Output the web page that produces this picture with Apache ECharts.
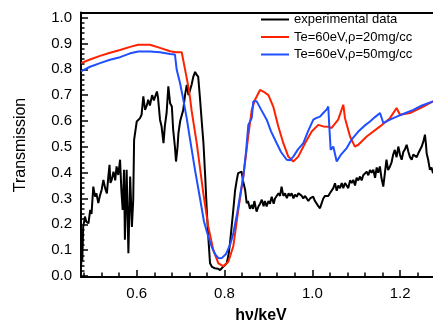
<!DOCTYPE html>
<html><head><meta charset="utf-8">
<script src="https://cdn.jsdelivr.net/npm/echarts@6/dist/echarts.min.js"></script>
<style>html,body{margin:0;padding:0;background:#fff}#c{width:433px;height:324px}</style>
</head><body><div id="c"></div>
<script>
const seriesNames = ['experimental data', 'Te=60eV,\u03c1=20mg/cc', 'Te=60eV,\u03c1=50mg/cc'];
const xMajorTicks = [0.6, 0.8, 1.0, 1.2];
const yMajorTicks = [0, 0.1, 0.2, 0.3, 0.4, 0.5, 0.6, 0.7, 0.8, 0.9, 1.0];
const xMinorTicks = [0.48,0.52,0.56,0.64,0.68,0.72,0.76,0.84,0.88,0.92,0.96,1.04,1.08,1.12,1.16,1.24];
const yMinorTicks = [0.02,0.04,0.06,0.08,0.12,0.14,0.16,0.18,0.22,0.24,0.26,0.28,0.32,0.34,0.36,0.38,0.42,0.44,0.46,0.48,0.52,0.54,0.56,0.58,0.62,0.64,0.66,0.68,0.72,0.74,0.76,0.78,0.82,0.84,0.86,0.88,0.92,0.94,0.96,0.98];

const expData = [[0.473,0.03],[0.475,0.10],[0.476,0.06],[0.478,0.19],[0.482,0.23],[0.485,0.21],[0.490,0.204],[0.494,0.256],[0.497,0.24],[0.501,0.346],[0.505,0.307],[0.508,0.32],[0.5125,0.282],[0.516,0.31],[0.520,0.333],[0.524,0.372],[0.528,0.34],[0.532,0.32],[0.535,0.38],[0.538,0.43],[0.540,0.36],[0.543,0.372],[0.547,0.404],[0.551,0.37],[0.554,0.424],[0.558,0.391],[0.562,0.45],[0.565,0.33],[0.568,0.256],[0.571,0.411],[0.573,0.14],[0.577,0.411],[0.581,0.088],[0.585,0.385],[0.589,0.19],[0.592,0.295],[0.594,0.527],[0.600,0.598],[0.6075,0.611],[0.611,0.624],[0.615,0.695],[0.619,0.643],[0.623,0.66],[0.626,0.682],[0.630,0.66],[0.635,0.70],[0.639,0.68],[0.646,0.714],[0.6485,0.69],[0.653,0.605],[0.6565,0.58],[0.661,0.514],[0.664,0.58],[0.668,0.63],[0.672,0.734],[0.676,0.669],[0.680,0.656],[0.683,0.566],[0.687,0.50],[0.6895,0.443],[0.693,0.50],[0.695,0.553],[0.699,0.60],[0.706,0.643],[0.710,0.70],[0.714,0.74],[0.718,0.70],[0.7214,0.695],[0.725,0.74],[0.729,0.772],[0.733,0.79],[0.736,0.78],[0.740,0.772],[0.744,0.69],[0.748,0.60],[0.752,0.514],[0.756,0.385],[0.7595,0.256],[0.763,0.152],[0.767,0.049],[0.7715,0.035],[0.778,0.03],[0.785,0.028],[0.790,0.023],[0.794,0.017],[0.797,0.036],[0.801,0.04],[0.805,0.049],[0.809,0.08],[0.8125,0.127],[0.820,0.256],[0.824,0.33],[0.828,0.372],[0.831,0.398],[0.835,0.395],[0.839,0.404],[0.842,0.37],[0.847,0.333],[0.8505,0.282],[0.8535,0.29],[0.858,0.26],[0.862,0.275],[0.865,0.26],[0.868,0.29],[0.873,0.249],[0.8775,0.27],[0.881,0.28],[0.885,0.295],[0.889,0.27],[0.892,0.29],[0.896,0.269],[0.900,0.29],[0.9035,0.28],[0.9075,0.307],[0.912,0.28],[0.915,0.30],[0.919,0.295],[0.923,0.32],[0.9265,0.31],[0.930,0.346],[0.934,0.31],[0.938,0.32],[0.942,0.301],[0.946,0.32],[0.949,0.31],[0.953,0.32],[0.957,0.30],[0.9605,0.315],[0.9645,0.307],[0.9685,0.32],[0.972,0.32],[0.976,0.31],[0.9795,0.30],[0.983,0.31],[0.987,0.301],[0.991,0.29],[0.995,0.30],[0.9986,0.295],[1.002,0.307],[1.006,0.29],[1.010,0.28],[1.0137,0.27],[1.0175,0.262],[1.021,0.28],[1.025,0.30],[1.029,0.31],[1.033,0.307],[1.0365,0.31],[1.040,0.32],[1.044,0.32],[1.0478,0.34],[1.0517,0.359],[1.0556,0.33],[1.0592,0.35],[1.063,0.34],[1.067,0.36],[1.0706,0.34],[1.0745,0.36],[1.0784,0.353],[1.082,0.34],[1.086,0.37],[1.0897,0.36],[1.0934,0.372],[1.0973,0.35],[1.101,0.38],[1.1048,0.37],[1.1087,0.385],[1.1125,0.37],[1.116,0.39],[1.120,0.385],[1.124,0.404],[1.1276,0.39],[1.1314,0.41],[1.135,0.40],[1.139,0.411],[1.143,0.38],[1.1467,0.42],[1.150,0.40],[1.154,0.424],[1.1575,0.38],[1.1617,0.346],[1.1655,0.40],[1.169,0.45],[1.1727,0.41],[1.177,0.424],[1.1806,0.44],[1.1843,0.47],[1.188,0.488],[1.192,0.46],[1.196,0.501],[1.1997,0.47],[1.2036,0.45],[1.2073,0.48],[1.211,0.49],[1.215,0.508],[1.219,0.48],[1.2226,0.46],[1.2265,0.45],[1.230,0.47],[1.234,0.469],[1.2378,0.46],[1.2415,0.475],[1.2455,0.482],[1.249,0.50],[1.253,0.52],[1.2567,0.547],[1.259,0.51],[1.2605,0.475],[1.264,0.45],[1.268,0.411],[1.2716,0.42],[1.275,0.398]];

const rho20Data = [[0.473,0.824],[0.4936,0.838],[0.5164,0.852],[0.5392,0.864],[0.562,0.875],[0.585,0.887],[0.603,0.895],[0.630,0.895],[0.653,0.883],[0.676,0.870],[0.6896,0.866],[0.7025,0.866],[0.710,0.80],[0.7175,0.734],[0.7214,0.69],[0.725,0.64],[0.7367,0.514],[0.7517,0.32],[0.763,0.191],[0.7745,0.10],[0.786,0.049],[0.797,0.038],[0.8087,0.055],[0.820,0.115],[0.8314,0.256],[0.8428,0.385],[0.854,0.54],[0.862,0.643],[0.8695,0.682],[0.881,0.72],[0.8884,0.714],[0.900,0.70],[0.911,0.656],[0.9226,0.579],[0.934,0.514],[0.9453,0.462],[0.9567,0.443],[0.968,0.462],[0.9834,0.514],[0.9986,0.559],[1.0137,0.585],[1.025,0.579],[1.0365,0.578],[1.044,0.573],[1.059,0.605],[1.0706,0.663],[1.0745,0.611],[1.086,0.540],[1.097,0.501],[1.1048,0.508],[1.124,0.540],[1.1543,0.579],[1.177,0.611],[1.192,0.650],[1.1998,0.624],[1.2226,0.631],[1.253,0.656],[1.275,0.676]];

const rho50Data = [[0.473,0.792],[0.4936,0.81],[0.5164,0.824],[0.539,0.837],[0.562,0.847],[0.585,0.862],[0.6036,0.869],[0.630,0.869],[0.653,0.866],[0.676,0.859],[0.687,0.857],[0.6911,0.798],[0.6986,0.747],[0.7062,0.682],[0.7139,0.61],[0.7214,0.53],[0.7328,0.41],[0.7442,0.30],[0.7533,0.21],[0.7631,0.152],[0.7715,0.11],[0.7784,0.085],[0.7859,0.069],[0.7943,0.07],[0.8034,0.085],[0.8125,0.12],[0.8194,0.16],[0.8285,0.24],[0.8353,0.31],[0.8428,0.385],[0.849,0.48],[0.8542,0.585],[0.862,0.611],[0.8656,0.676],[0.8733,0.676],[0.8831,0.645],[0.8961,0.605],[0.9059,0.56],[0.9189,0.514],[0.9287,0.48],[0.9417,0.450],[0.9492,0.448],[0.9567,0.462],[0.9674,0.49],[0.9795,0.514],[0.9902,0.56],[1.0023,0.605],[1.0084,0.611],[1.0175,0.617],[1.025,0.631],[1.0328,0.645],[1.0364,0.656],[1.0387,0.579],[1.0419,0.488],[1.0478,0.501],[1.0556,0.443],[1.0654,0.47],[1.0784,0.495],[1.0904,0.53],[1.1048,0.559],[1.1178,0.58],[1.1314,0.598],[1.1428,0.615],[1.1543,0.631],[1.1618,0.592],[1.177,0.605],[1.1923,0.617],[1.2112,0.63],[1.2301,0.643],[1.2499,0.66],[1.275,0.676]];

const FONT = "'Liberation Sans', Arial, sans-serif";
const XMIN = 0.473, XMAX = 1.275, YMIN = -0.004, YMAX = 1.02;
const chart = echarts.init(document.getElementById('c'), null, {renderer: 'canvas'});
const axisLineStyle = {color: '#000', width: 2};
chart.setOption({
  animation: false,
  backgroundColor: '#fff',
  grid: {left: 81, top: 12.5, right: 0, bottom: 47, containLabel: false},
  legend: {
    orient: 'vertical', left: 261, top: 13, padding: 0,
    itemWidth: 28, itemHeight: 13, itemGap: 4.5,
    icon: 'path://M0,0 L28,0 L28,2 L0,2 Z',
    symbolKeepAspect: true,
    textStyle: {fontFamily: FONT, fontSize: 13, color: '#000'},
    data: seriesNames
  },
  xAxis: [
    {type: 'value', min: XMIN, max: XMAX, position: 'bottom',
     axisLine: {show: true, onZero: false, lineStyle: axisLineStyle},
     axisTick: {show: true, inside: true, length: 7, lineStyle: {color: '#000', width: 1.5}, customValues: xMajorTicks},
     axisLabel: {show: true, margin: 9, fontFamily: FONT, fontSize: 15, color: '#000', customValues: xMajorTicks,
       formatter: v => v.toFixed(1)},
     splitLine: {show: false}},
    {type: 'value', min: XMIN, max: XMAX, position: 'bottom',
     axisLine: {show: false},
     axisTick: {show: true, inside: true, length: 3.5, lineStyle: {color: '#000', width: 1.5}, customValues: xMinorTicks},
     axisLabel: {show: false}, splitLine: {show: false}},
    {type: 'value', min: XMIN, max: XMAX, position: 'top',
     axisLine: {show: true, onZero: false, lineStyle: axisLineStyle},
     axisTick: {show: false}, axisLabel: {show: false}, splitLine: {show: false}}
  ],
  yAxis: [
    {type: 'value', min: YMIN, max: YMAX, position: 'left',
     axisLine: {show: true, onZero: false, lineStyle: axisLineStyle},
     axisTick: {show: true, inside: true, length: 7, lineStyle: {color: '#000', width: 1.5}, customValues: yMajorTicks},
     axisLabel: {show: true, margin: 9, fontFamily: FONT, fontSize: 15, color: '#000', customValues: yMajorTicks,
       formatter: v => v.toFixed(1)},
     splitLine: {show: false}},
    {type: 'value', min: YMIN, max: YMAX, position: 'left',
     axisLine: {show: false},
     axisTick: {show: true, inside: true, length: 3.5, lineStyle: {color: '#000', width: 1.5}, customValues: yMinorTicks},
     axisLabel: {show: false}, splitLine: {show: false}}
  ],
  graphic: [
    {type: 'text', x: 21, y: 145, rotation: Math.PI / 2,
     style: {text: 'Transmission', fontFamily: FONT, fontSize: 16, fill: '#000', align: 'center', verticalAlign: 'middle'}},
    {type: 'text', x: 261, y: 316,
     style: {text: 'h\u03bd/keV', fontFamily: FONT, fontSize: 16, fontWeight: 'bold', fill: '#000', align: 'center', verticalAlign: 'middle'}}
  ],
  series: [
    {name: seriesNames[0], type: 'line', data: expData, symbol: 'none', showSymbol: false,
     lineStyle: {color: '#000', width: 2}, itemStyle: {color: '#000'}, clip: true, z: 2},
    {name: seriesNames[1], type: 'line', data: rho20Data, symbol: 'none', showSymbol: false,
     lineStyle: {color: '#ff2200', width: 2}, itemStyle: {color: '#ff2200'}, clip: true, z: 3},
    {name: seriesNames[2], type: 'line', data: rho50Data, symbol: 'none', showSymbol: false,
     lineStyle: {color: '#1f4fff', width: 2}, itemStyle: {color: '#1f4fff'}, clip: true, z: 4}
  ]
});
</script>
</body></html>
